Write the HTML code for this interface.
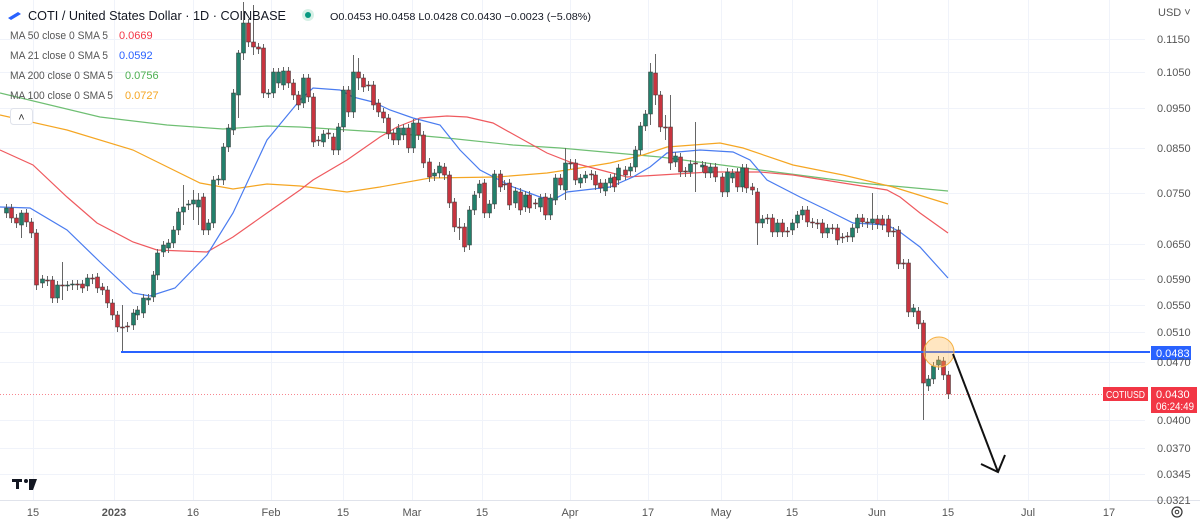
<!DOCTYPE html>
<html><head><meta charset="utf-8"><style>
html,body{margin:0;padding:0;background:#fff;}
body{width:1200px;height:522px;overflow:hidden;position:relative;font-family:"Liberation Sans",sans-serif;}
svg{position:absolute;left:0;top:0;}
.ax{font-size:11px;fill:#555;}
</style></head><body>
<svg id="s" width="1200" height="522" viewBox="0 0 1200 522">
<g id="grid" stroke="#f0f3fa" stroke-width="1"></g>
<line x1="0" y1="500.5" x2="1200" y2="500.5" stroke="#e0e3eb"/>
<g id="ma" fill="none" stroke-width="1.2">
<polyline stroke="#6fbf73" points="0,93 100,117 167,125 223,129 267,126 300,127 380,132 447,138 513,145 560,148 660,157 760,170 860,183 948,191"/>
<polyline stroke="#f5a623" points="0,115 67,130 133,150 200,183 233,189 267,184 300,186 347,192 380,187 430,178 497,177 547,173 580,168 610,163 643,155 667,147 720,143 743,148 793,165 843,175 893,187 948,204"/>
<polyline stroke="#ef5a5f" points="0,150 33,165 67,197 97,223 133,242 157,250 207,252 233,237 267,213 300,190 313,180 347,160 380,137 397,127 420,118 447,116 467,117 493,123 520,138 547,153 570,162 593,168 627,177 660,175 710,172 760,172 793,175 843,183 887,190 900,197 920,213 948,233"/>
<polyline stroke="#4a7cf0" points="0,207 30,208 67,230 100,262 133,293 150,296 175,288 207,255 233,213 267,140 300,100 313,88 340,90 353,97 373,102 390,110 413,118 440,125 460,150 480,170 513,187 540,197 553,200 567,192 610,187 633,177 650,167 667,153 700,150 733,152 750,160 767,180 800,197 827,210 853,223 887,225 900,232 920,247 948,278"/>
</g>
<g id="c"></g>
<line x1="121" y1="352" x2="1150" y2="352" stroke="#2962ff" stroke-width="2"/>
<line x1="0" y1="394.5" x2="1102" y2="394.5" stroke="#f23645" stroke-width="1" stroke-dasharray="1,2" opacity="0.6"/>
<circle cx="939" cy="352" r="15" fill="rgba(255,183,77,0.35)" stroke="#f5b041" stroke-width="1"/>
<g stroke="#111" stroke-width="2" fill="none">
<line x1="953" y1="354" x2="998" y2="472"/>
<polyline points="981,464 998,472 1005,455"/>
</g>
<rect x="1151" y="346" width="40" height="14" fill="#2962ff"/>
<text x="1156" y="357" font-size="11" fill="#fff">0.0483</text>
<rect x="1103" y="387" width="45" height="14" fill="#f23645"/>
<text x="1106" y="398" font-size="10.5" fill="#fff" textLength="39" lengthAdjust="spacingAndGlyphs">COTIUSD</text>
<rect x="1151" y="387" width="46" height="26" fill="#f23645"/>
<text x="1156" y="398" font-size="11" fill="#fff">0.0430</text>
<text x="1156" y="410" font-size="11" fill="#fff" textLength="38" lengthAdjust="spacingAndGlyphs">06:24:49</text>
<g id="yax" class="ax"></g>
<text x="1158" y="16" class="ax" font-size="10">USD ˅</text>
<g id="xax" class="ax" text-anchor="middle"></g>
<circle cx="1177" cy="512" r="5" fill="none" stroke="#333" stroke-width="1.2"/><circle cx="1177" cy="512" r="1.8" fill="none" stroke="#333"/>
<g fill="#131722"><rect x="12" y="479" width="10" height="3"/><rect x="16" y="479" width="3" height="10"/><circle cx="26" cy="481" r="2"/><polygon points="29,479 37,479 33,490 29,490"/></g>
<g transform="translate(8,12)"><polygon points="0,6 10,0 13,2 3,8" fill="#2962ff"/></g>
<circle cx="308" cy="15" r="6" fill="#d6f0e6"/><circle cx="308" cy="15" r="3" fill="#089981"/>
<text x="28" y="20" font-size="13" fill="#131722" textLength="258" lengthAdjust="spacingAndGlyphs">COTI / United States Dollar · 1D · COINBASE</text>
<text x="330" y="20" font-size="10.5" fill="#131722" textLength="261" lengthAdjust="spacingAndGlyphs">O0.0453  H0.0458  L0.0428  C0.0430  −0.0023 (−5.08%)</text>
<text x="10" y="39" font-size="11" fill="#555" textLength="98" lengthAdjust="spacingAndGlyphs">MA 50 close 0 SMA 5</text><text x="119" y="39" font-size="11" fill="#f23645">0.0669</text>
<text x="10" y="59" font-size="11" fill="#555" textLength="98" lengthAdjust="spacingAndGlyphs">MA 21 close 0 SMA 5</text><text x="119" y="59" font-size="11" fill="#2962ff">0.0592</text>
<text x="10" y="79" font-size="11" fill="#555" textLength="103" lengthAdjust="spacingAndGlyphs">MA 200 close 0 SMA 5</text><text x="125" y="79" font-size="11" fill="#4caf50">0.0756</text>
<text x="10" y="99" font-size="11" fill="#555" textLength="103" lengthAdjust="spacingAndGlyphs">MA 100 close 0 SMA 5</text><text x="125" y="99" font-size="11" fill="#f5a623">0.0727</text>
<rect x="10.5" y="108.5" width="22" height="16" rx="3" fill="#fff" stroke="#e0e3eb"/>
<text x="21.5" y="121" font-size="11" fill="#333" text-anchor="middle">˄</text>
</svg>
<script>
var NS="http://www.w3.org/2000/svg";
function el(p,t,a,txt){var e=document.createElementNS(NS,t);for(var k in a)e.setAttribute(k,a[k]);if(txt)e.textContent=txt;p.appendChild(e);return e;}
var yl=[["0.1150",39],["0.1050",72],["0.0950",108],["0.0850",148],["0.0750",193],["0.0650",244],["0.0590",279],["0.0550",305],["0.0510",332],["0.0470",362],["0.0400",420],["0.0370",448],["0.0345",474],["0.0321",500]];
var g=document.getElementById("grid"),ya=document.getElementById("yax"),xa=document.getElementById("xax");
yl.forEach(function(l){el(g,"line",{x1:0,x2:1145,y1:l[1]+.5,y2:l[1]+.5});el(ya,"text",{x:1157,y:l[1]+4},l[0]);});
var xl=[["15",33],["2023",114],["16",193],["Feb",271],["15",343],["Mar",412],["15",482],["Apr",570],["17",648],["May",721],["15",792],["Jun",877],["15",948],["Jul",1028],["17",1109]];
xl.forEach(function(l){el(g,"line",{x1:l[1]+.5,x2:l[1]+.5,y1:0,y2:500});var t=el(xa,"text",{x:l[1],y:516},l[0]);if(l[0]=="2023")t.setAttribute("font-weight","bold");});
var D=[[6,213,208],[11,208,218],[16,218,223],[21,225,213,210,238],[26,213,222],[31,222,233],[36,233,285],[42,283,279],[47,280,281],[52,280,298],[57,298,285],[62,285,286,262,300],[67,286,285],[72,285,284],[77,284,285],[82,284,288],[87,286,278],[92,278,279],[97,277,288],[102,287,290],[107,290,303],[112,303,315],[117,315,327],[122,327,328,305,352],[127,326,327],[133,325,313],[137,315,310],[143,313,298],[148,300,298],[153,297,275],[157,275,253],[163,252,245],[168,248,243],[173,243,230],[178,230,212],[183,212,207,185,225],[188,205,204],[193,204,200,190,220],[198,207,200,193,225],[203,197,230],[208,230,223],[213,223,180],[218,180,179],[223,180,147],[228,147,128],[233,130,93],[238,95,53,50,118],[243,53,23,2,60],[248,23,42],[253,42,47,5,55],[258,47,49],[263,48,93],[268,93,93],[273,93,72],[278,83,72],[283,85,71],[288,71,83],[293,83,95],[298,95,105],[303,103,78],[308,78,97],[313,97,142],[318,140,141],[323,142,134],[328,133,134],[333,137,150],[338,150,127],[343,127,90],[348,90,112],[353,112,72,55,118],[358,72,78,58,90],[363,78,87],[368,85,86],[373,85,105],[378,103,112],[383,112,118],[388,118,134],[393,133,140],[398,140,128],[403,135,128],[408,128,148],[413,148,123],[418,123,135],[423,135,163],[429,162,177],[434,176,173],[439,173,166],[444,167,175],[449,175,203],[454,202,227],[459,227,228,218,240],[464,227,247],[469,245,210],[474,210,195],[479,193,184],[484,183,213],[489,213,204],[494,204,174],[500,174,187],[504,184,185],[509,183,205],[515,203,191],[520,192,210],[525,207,195],[529,195,208],[535,203,204],[540,207,198],[545,197,215],[550,215,198],[555,200,178],[560,178,185],[565,190,163,148,200],[570,163,164],[575,163,180],[580,183,178],[585,178,175],[591,174,175],[595,175,185],[600,183,188],[605,191,183],[610,183,178],[614,177,187],[618,180,168],[625,170,175],[630,171,167],[635,167,150],[640,150,126],[645,126,114],[650,114,72,63,125],[655,73,95,54,105],[660,95,127],[665,127,128,115,140],[670,127,163,95,170],[675,162,156],[680,157,172],[685,171,172],[690,172,164],[695,163,164,122,192],[702,167,165],[705,166,173],[710,173,167],[715,167,177],[722,177,192],[727,192,172],[732,178,173],[737,172,187],[742,187,168],[746,168,188],[752,187,190],[757,192,223,188,245],[762,223,219],[767,218,219],[772,218,232],[777,232,223],[782,223,232],[787,231,232],[792,230,223],[797,223,215],[802,215,210],[807,210,222],[812,222,223],[817,223,224],[822,223,233],[827,233,228],[832,228,229],[837,228,240],[842,237,238],[847,236,237],[852,237,228],[857,228,218],[862,218,222],[867,222,223],[872,223,219,193,230],[877,219,224],[882,219,225],[888,219,232],[893,231,232],[898,230,264],[903,263,264],[908,263,312],[913,312,308],[918,311,324],[923,323,383,320,420],[928,386,379],[933,379,366],[938,365,360],[943,361,375],[948,375,394]];
var c=document.getElementById("c");
D.forEach(function(d){var x=d[0],o=d[1],cl=d[2],up=cl<=o,top=Math.min(o,cl),bot=Math.max(o,cl);
var h=d[3]!==undefined?d[3]:top-4,l=d[4]!==undefined?d[4]:bot+5;
var col=up?"#22806b":"#c8343f";
el(c,"line",{x1:x+.5,x2:x+.5,y1:h,y2:l,stroke:"#666","stroke-width":1});
el(c,"rect",{x:x-1.5,y:top,width:4,height:Math.max(1,bot-top),fill:col,stroke:"#333","stroke-width":0.5});});
</script>
</body></html>
